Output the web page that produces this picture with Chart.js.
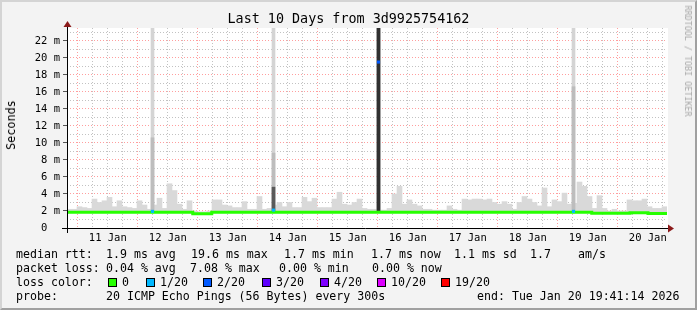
<!DOCTYPE html>
<html>
<head>
<meta charset="utf-8">
<script src="https://cdn.jsdelivr.net/npm/chart.js@4.4.1/dist/chart.umd.min.js"></script>
<style>
html, body { margin: 0; padding: 0; background: #f3f3f3; }
#wrap { position: relative; width: 697px; height: 310px; overflow: hidden;
        font-family: "DejaVu Sans Mono", monospace; color: #000; }
#frame { position: absolute; left: 0; top: 0; width: 693px; height: 306px;
         border-top: 2px solid #d4d4d4; border-left: 2px solid #d4d4d4;
         border-right: 2px solid #a0a0a0; border-bottom: 2px solid #a0a0a0; pointer-events: none; }
#chart { position: absolute; left: 0; top: 0; }
.t { position: absolute; white-space: pre; font-size: 11.6px; line-height: 14px; }
.sq { position: absolute; width: 7px; height: 7px; border: 1px solid #000; }
#title { position: absolute; left: 0; width: 697px; top: 11px; text-align: center;
         font-size: 13.4px; line-height: 16px; white-space: pre; }
#ylab { position: absolute; left: 11px; top: 125px; font-size: 11.8px; line-height: 14px;
        transform: translate(-50%, -50%) rotate(-90deg); white-space: pre; }
#brand { position: absolute; left: 688px; top: 61px; font-size: 8.4px; line-height: 10px; color: #a8a8a8;
         transform: translate(-50%, -50%) rotate(90deg); white-space: pre; }
</style>
</head>
<body>
<div id="wrap">
  <canvas id="chart" width="697" height="310"></canvas>
  <div id="title">Last 10 Days from 3d9925754162</div>
  <div id="ylab">Seconds</div>
  <div id="brand">RRDTOOL / TOBI OETIKER</div>

  <div class="t" style="left:16px;top:247px">median rtt:</div>
  <div class="t" style="left:106px;top:247px">1.9 ms avg</div>
  <div class="t" style="left:191px;top:247px">19.6 ms max</div>
  <div class="t" style="left:284px;top:247px">1.7 ms min</div>
  <div class="t" style="left:371px;top:247px">1.7 ms now</div>
  <div class="t" style="left:454px;top:247px">1.1 ms sd</div>
  <div class="t" style="left:530px;top:247px">1.7</div>
  <div class="t" style="left:578px;top:247px">am/s</div>

  <div class="t" style="left:16px;top:261px">packet loss:</div>
  <div class="t" style="left:106px;top:261px">0.04 % avg</div>
  <div class="t" style="left:190px;top:261px">7.08 % max</div>
  <div class="t" style="left:279px;top:261px">0.00 % min</div>
  <div class="t" style="left:372px;top:261px">0.00 % now</div>

  <div class="t" style="left:16px;top:275px">loss color:</div>
  <div id="lossrow"></div>

  <div class="t" style="left:16px;top:289px">probe:</div>
  <div class="t" style="left:106px;top:289px">20 ICMP Echo Pings (56 Bytes) every 300s</div>
  <div class="t" style="left:477px;top:289px">end: Tue Jan 20 19:41:14 2026</div>
  <div id="frame"></div>
</div>
<script>
// time axis: hours since Tue Jan 10 19:41:14, 10 days shown
const spanHours = 240;
const firstMidnight = 4.3128;   // Jan 11 00:00
const firstDay = 11;

// smoke (max ping) per 2 hour bin, ms
const binHours = 2;
const smokeTop = [
  2.2, 2.2, 2.5, 2.4, 2.3, 3.4, 3.0, 3.2, 3.6, 2.5,
  3.2, 2.5, 2.4, 2.3, 3.2, 2.7, 2.2, 2.7, 3.5, 2.3,
  5.2, 4.4, 2.8, 2.2, 3.2, 2.0, 1.9, 1.9, 2.0, 3.3,
  3.3, 2.7, 2.6, 2.4, 2.4, 3.1, 2.2, 2.2, 3.7, 2.2,
  2.3, 2.7, 3.0, 2.5, 3.0, 2.4, 2.4, 3.6, 3.1, 3.5,
  2.4, 2.4, 2.4, 3.4, 4.2, 2.8, 2.7, 3.0, 3.4, 2.3,
  2.2, 2.2, 2.1, 2.1, 2.3, 4.0, 4.9, 2.8, 3.3, 2.8,
  2.6, 2.2, 2.2, 2.1, 2.1, 2.1, 2.6, 2.2, 2.1, 3.4,
  3.3, 3.4, 3.4, 3.3, 3.4, 3.0, 2.8, 3.1, 2.8, 2.2,
  3.0, 3.7, 3.4, 3.0, 2.6, 4.7, 2.5, 3.3, 3.1, 4.1,
  2.8, 2.9, 5.4, 4.9, 3.7, 2.3, 3.8, 2.3, 2.0, 2.2,
  2.0, 2.0, 3.3, 3.2, 3.2, 3.4, 2.5, 2.3, 2.3, 2.5
];
const smokeFloor = 1.8;

// median rtt (ms), value holds from each hour until the next one
const medianHours  = [0,    50.3, 57.9, 209.9, 225.2, 232.4, 240];
const medianValues = [1.85, 1.68, 1.85, 1.72,  1.78,  1.70,  1.70];

// spikes: hour, light smoke top, mid smoke top, dark core top
const spikeHours = [34.2, 82.6, 124.6, 202.6];
const spikeLight = [23.5, 23.5, 23.5, 23.5];
const spikeMid   = [10.6, 8.8,  23.5, 16.6];
const spikeDark  = [0,    4.8,  23.5, 0];

// loss markers on the median
const lossHours  = [34.2, 82.6, 124.6, 202.6];
const lossValues = [1.95, 2.1,  19.5,  1.95];
const lossIdx    = [1, 1, 2, 1];

const lossLabels = ['0', '1/20', '2/20', '3/20', '4/20', '10/20', '19/20'];
const lossColors = ['#26ff00', '#00b8ff', '#0059ff', '#5e00ff', '#7e00ff', '#dd00ff', '#ff0000'];
const lossSquareX = [108, 146, 203, 262, 320, 377, 441];

// y axis
const yMax = 23.5;
const yStep = 1;

// legend row 3
let row = document.getElementById('lossrow');
for (let i = 0; i < lossLabels.length; i++) {
    let sq = document.createElement('div');
    sq.className = 'sq';
    sq.style.left = lossSquareX[i] + 'px';
    sq.style.top = '278px';
    sq.style.background = lossColors[i];
    row.appendChild(sq);
    let tx = document.createElement('div');
    tx.className = 't';
    tx.style.left = (lossSquareX[i] + 14) + 'px';
    tx.style.top = '275px';
    tx.textContent = lossLabels[i];
    row.appendChild(tx);
}

const smokeData = smokeTop.map((v, i) => ({x: i * binHours + binHours / 2, y: [smokeFloor, v]}));
const medianData = medianHours.map((h, i) => ({x: h, y: medianValues[i]}));
const spikeLayer = (arr) => spikeHours.map((h, i) => ({x: h, y: [medianValues[0], arr[i]]})).filter(d => d.y[1] > 0);
const lossData = lossHours.map((h, i) => ({x: h, y: lossValues[i]}));

// white plot area + axis arrows
const rrdFrame = {
    id: 'rrdFrame',
    beforeDraw(chart) {
        const a = chart.chartArea, c = chart.ctx;
        c.save();
        c.fillStyle = '#ffffff';
        c.fillRect(a.left, a.top, a.right - a.left + 1, a.bottom - a.top);
        c.restore();
    },
    afterDraw(chart) {
        const a = chart.chartArea, c = chart.ctx;
        c.save();
        c.strokeStyle = '#000';
        c.lineWidth = 1;
        c.beginPath();
        c.moveTo(a.left - 5, a.bottom + 0.5); c.lineTo(a.right + 2, a.bottom + 0.5);
        c.moveTo(a.left + 0.5, a.bottom + 5); c.lineTo(a.left + 0.5, a.top - 2);
        c.stroke();
        c.fillStyle = '#8b1a1a';
        c.beginPath();
        c.moveTo(a.right + 1, a.bottom - 3.5); c.lineTo(a.right + 7, a.bottom + 0.5); c.lineTo(a.right + 1, a.bottom + 4.5);
        c.fill();
        c.beginPath();
        c.moveTo(a.left - 3.5, a.top - 1); c.lineTo(a.left + 0.5, a.top - 7); c.lineTo(a.left + 4.5, a.top - 1);
        c.fill();
        c.restore();
    }
};

const mono = 'DejaVu Sans Mono';

new Chart(document.getElementById('chart'), {
    type: 'bar',
    data: {
        datasets: [
            {
                type: 'scatter', data: lossData, order: 0,
                pointStyle: 'rect', pointRadius: 2.2, borderWidth: 0,
                backgroundColor: lossIdx.map(i => lossColors[i])
            },
            {
                type: 'line', data: medianData, order: 1, stepped: 'before',
                borderColor: lossColors[0], borderWidth: 3, pointRadius: 0, fill: false
            },
            {
                data: spikeLayer(spikeDark), order: 2, barThickness: 3,
                backgroundColor: ['#5a5a5a', '#303030']
            },
            {
                data: spikeLayer(spikeMid), order: 3, barThickness: 3,
                backgroundColor: '#bdbdbd'
            },
            {
                data: spikeLayer(spikeLight), order: 4, barThickness: 3,
                backgroundColor: '#d4d4d4'
            },
            {
                data: smokeData, order: 5, barThickness: 5,
                backgroundColor: '#d9d9d9'
            }
        ]
    },
    options: {
        responsive: false,
        animation: false,
        devicePixelRatio: 1,
        layout: { padding: { left: 0, right: 30, top: 28, bottom: 0 } },
        datasets: { bar: { grouped: false, borderWidth: 0 } },
        plugins: { legend: { display: false }, tooltip: { enabled: false } },
        scales: {
            x: {
                type: 'linear', min: 0, max: spanHours, offset: false,
                afterBuildTicks: (scale) => {
                    let t = [];
                    for (let k = 0; firstMidnight + 6 * k < spanHours; k++) t.push({value: firstMidnight + 6 * k});
                    scale.ticks = t;
                },
                afterFit: (scale) => { scale.height = 82; },
                ticks: {
                    autoSkip: false, maxRotation: 0, padding: 4, color: '#000',
                    font: { family: mono, size: 10.5 },
                    callback: (v, i) => (i % 4 === 2 ? (firstDay + Math.floor(i / 4)) + ' Jan' : '')
                },
                grid: {
                    offset: false,
                    drawTicks: false,
                    color: (ctx) => (ctx.index % 4 === 0 ? 'rgba(255,0,0,0.38)' : 'rgba(120,120,120,0.45)')
                },
                border: { display: false, dash: [1, 2] }
            },
            y: {
                type: 'linear', min: 0, max: yMax,
                afterBuildTicks: (scale) => {
                    let t = [];
                    for (let v = 0; v <= yMax; v += yStep) t.push({value: v});
                    scale.ticks = t;
                },
                afterFit: (scale) => { scale.width = 67; },
                ticks: {
                    autoSkip: false, padding: 3, color: '#000',
                    font: { family: mono, size: 10.5 },
                    callback: (v) => (v === 0 ? '0  ' : (v % 2 === 0 ? v + ' m' : ''))
                },
                grid: {
                    tickLength: 4,
                    color: (ctx) => (ctx.tick.value === 0 ? 'rgba(0,0,0,0)' :
                        (ctx.tick.value % 2 === 0 ? 'rgba(255,0,0,0.38)' : 'rgba(120,120,120,0.45)')),
                    tickColor: (ctx) => (ctx.tick.value % 2 === 0 ? '#555' : 'rgba(0,0,0,0)')
                },
                border: { display: false, dash: [1, 2] }
            }
        }
    },
    plugins: [rrdFrame]
});
</script>
</body>
</html>
